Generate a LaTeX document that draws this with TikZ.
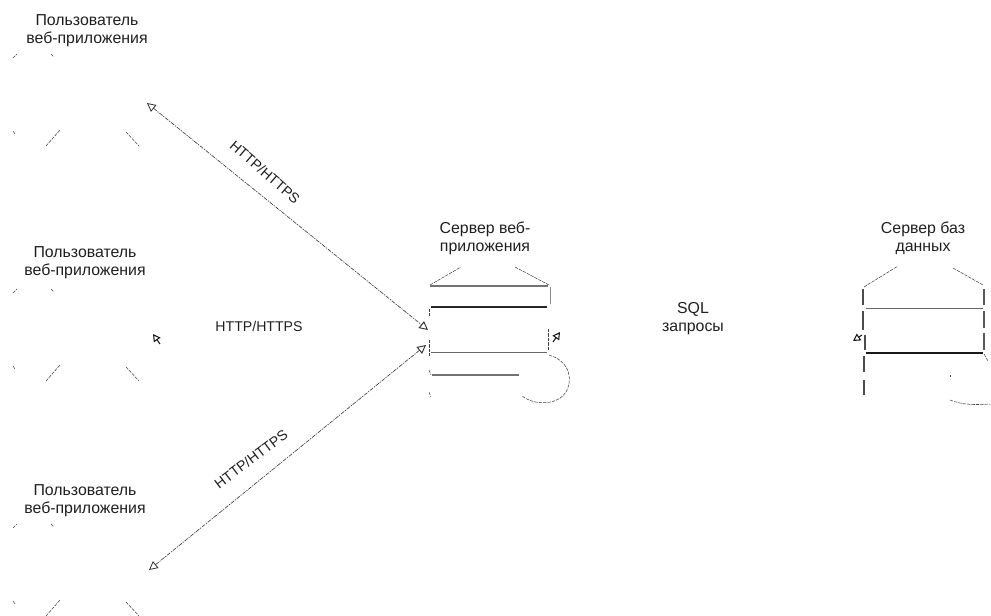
\documentclass[tikz,border=0pt]{standalone}
\usepackage{fontspec}
\setmainfont{Liberation Sans}
\usetikzlibrary{arrows.meta}
\definecolor{inkc}{gray}{0.12}
\tikzset{
  lbl/.style={font=\fontsize{11.9pt}{13.5pt}\selectfont, text=inkc, align=center, inner sep=0pt},
  lblsmall/.style={font=\fontsize{10.6pt}{12.4pt}\selectfont, text=inkc, align=center, inner sep=0pt},
  frag/.style={draw=black!75, line width=0.4pt, dash pattern=on 2.5pt off 0.8pt},
  solidthin/.style={draw=black!60, line width=0.7pt},
  solidgray/.style={draw=black!55, line width=1.1pt},
  soliddark/.style={draw=black!85, line width=1.1pt},
  edge/.style={draw=black!80, line width=0.45pt, dash pattern=on 3pt off 0.8pt on 1pt off 0.8pt,
    {Triangle[open,length=6.5pt,width=6.5pt,line width=0.6pt]}-{Triangle[open,length=6.5pt,width=6.5pt,line width=0.7pt]}},
  headonly/.style={draw=black!90, line width=0.8pt, -{Triangle[open,length=5.5pt,width=6pt,line width=0.8pt]}}
}
\begin{document}
\begin{tikzpicture}[x=0.75pt,y=-0.75pt]
\useasboundingbox (0,0) rectangle (991,615);
% labels
\node[lbl] (u1) at (87,31) {Пользователь\\веб-приложения};
\node[lbl] (u2) at (85,263) {Пользователь\\веб-приложения};
\node[lbl] (u3) at (85,501) {Пользователь\\веб-приложения};
\node[lbl] (srv) at (485,238) {Сервер веб-\\приложения};
\node[lbl] (db) at (923,238) {Сервер баз\\данных};
\node[lbl] (sql) at (693,319) {SQL\\запросы};
\node[lblsmall] (mid) at (259,326) {HTTP/HTTPS};
\node[lblsmall,rotate=-41] (t1) at (265,172) {HTTP/HTTPS};
\node[lblsmall,rotate=37] (t3) at (251,459) {HTTP/HTTPS};
% free ends of connectors
\coordinate (a1) at (147,103);
\coordinate (a3) at (149,570);
\coordinate (s1) at (428,330);
\coordinate (s3) at (426,345);
\draw[edge] (a1) -- (s1);
\draw[edge] (a3) -- (s3);
% isolated arrow heads
\coordinate (h1a) at (160,344); \coordinate (h1b) at (153,334);
\coordinate (h2a) at (553,342); \coordinate (h2b) at (560,332);
\coordinate (h3a) at (862,335); \coordinate (h3b) at (853,341);
\draw[headonly] (h1a) -- (h1b);
\draw[headonly] (h2a) -- (h2b);
\draw[headonly] (h3a) -- (h3b);
% user figures (fragments)
\foreach \y in {0,235,470}{
  \draw[frag] (13,58+\y) -- (17,54+\y);
  \draw[frag] (51,54+\y) -- (54,57+\y);
  \draw[frag] (13,131+\y) -- (15,134+\y);
  \draw[frag] (46,146+\y) -- (60,130+\y);
  \draw[frag] (126,132+\y) -- (139,146+\y);
}
% web server
\draw[frag] (430,285) -- (461,267);
\draw[frag] (515,267) -- (549,285);
\draw[solidgray] (430,286) -- (548,286);
\draw[soliddark] (431,307) -- (547,307);
\draw[solidthin] (431,352) -- (547,352);
\draw[solidgray] (432,375) -- (519,375);
\draw[draw=black!45,line width=0.5pt] (550,287) -- (550,304);
\draw[frag] (429,309) -- (429,316);
\draw[frag] (429,340) -- (429,356);
\draw[frag] (548,329) -- (548,350);
\draw[frag] (429,370) -- (431,375);
\draw[frag] (429,392) -- (431,397);
\draw[frag] (549,355) .. controls (572,362) and (572,382) .. (566,392) .. controls (558,405) and (535,406) .. (522,396);
% db server
\draw[frag] (864,287) -- (898,266);
\draw[frag] (953,268) -- (983,285);
\draw[solidthin] (866,308) -- (983,308);
\draw[draw=black!90,line width=1.3pt] (866,353) -- (983,353);
\draw[draw=black!70,line width=0.9pt] (863,289) -- (863,305);
\draw[draw=black!70,line width=0.9pt] (863,311) -- (863,330);
\draw[draw=black!70,line width=0.9pt] (865,335) -- (865,350);
\draw[draw=black!70,line width=0.9pt] (864,356) -- (864,372);
\draw[draw=black!70,line width=0.9pt] (864,380) -- (864,395);
\draw[draw=black!65,line width=0.8pt] (984,289) -- (984,305);
\draw[draw=black!65,line width=0.8pt] (984,311) -- (984,328);
\draw[draw=black!65,line width=0.8pt] (984,333) -- (984,350);
\draw[frag] (984,354) -- (988,361);
\draw[frag] (950,375) -- (950,377);
\draw[frag] (950,400) .. controls (962,405) and (975,405) .. (990,404);
\end{tikzpicture}
\end{document}
